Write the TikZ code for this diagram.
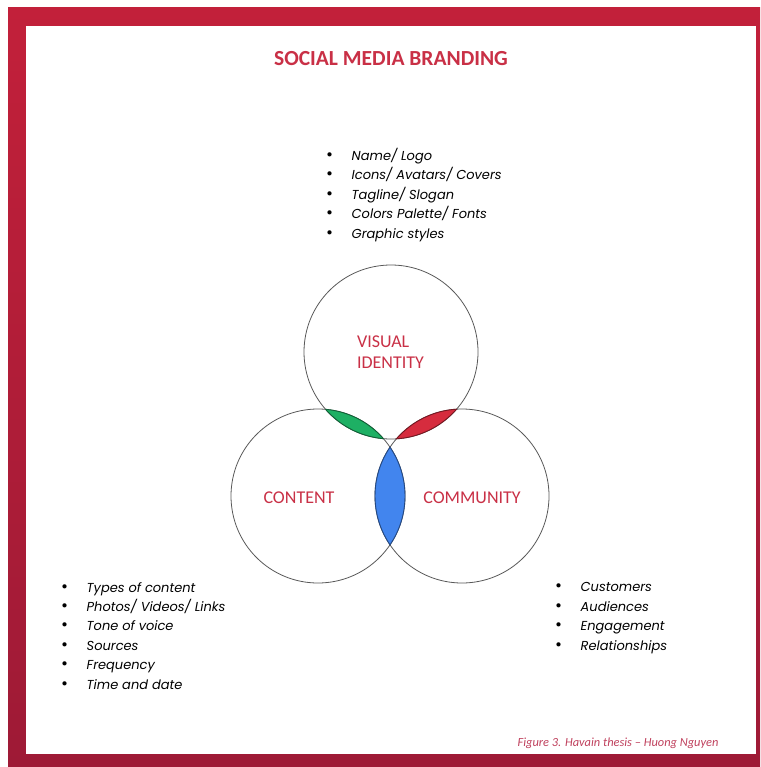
\documentclass[tikz,border=0pt]{standalone}
\usepackage{fontspec}
\setmainfont{Carlito}
\newfontfamily\listfont{Poppins}
\usetikzlibrary{positioning}
\definecolor{brandred}{RGB}{201,48,70}
\definecolor{framered}{RGB}{194,32,58}
\definecolor{framedark}{RGB}{158,26,54}
\definecolor{capred}{RGB}{192,66,94}
\definecolor{lensgreen}{RGB}{30,176,100}
\definecolor{lensred}{RGB}{214,44,62}
\definecolor{lensblue}{RGB}{66,133,238}
\tikzset{
    brandcircle/.style={circle, draw=black!65, line width=0.8pt,
        minimum size=174pt, inner sep=0pt},
    circlelabel/.style={text=brandred, align=left, inner sep=0pt,
        font=\fontsize{18}{21}\selectfont},
    itemlist/.style={anchor=base west, inner sep=0pt, align=left,
        font=\listfont\itshape\fontsize{13}{19.4}\selectfont},
    lensline/.style={line width=0.9pt}
}
\newcommand{\bul}{\makebox[25.5pt][l]{\upshape\fontsize{17}{17}\selectfont\textbullet}}
\newcommand{\crad}{87pt}

\begin{document}
\begin{tikzpicture}[x=1pt,y=-1pt]
\useasboundingbox (0,0) rectangle (760,767);
\fill[white] (0,0) rectangle (760,767);
% red frame
\shade[top color=framered, bottom color=framedark] (8,8) rectangle (760,766);
\fill[white] (26,26) rectangle (756,754);

\node[anchor=base, text=brandred, font=\bfseries\fontsize{21.5}{24}\selectfont]
    (title) at (391,65.5) {SOCIAL MEDIA BRANDING};

% the three circles
\node[brandcircle] (vis) at (391,352) {};
\node[brandcircle] (cont) at (318,496) {};
\node[brandcircle] (comm) at (462,496) {};

% overlaps
\foreach \a/\b/\c in {vis/cont/lensgreen, vis/comm/lensred, cont/comm/lensblue}{
    \begin{scope}
        \clip (\a.center) circle[radius=\crad];
        \filldraw[lensline, fill=\c, draw=\c!55!black] (\b.center) circle[radius=\crad];
    \end{scope}
    \begin{scope}
        \clip (\b.center) circle[radius=\crad];
        \draw[lensline, draw=\c!55!black] (\a.center) circle[radius=\crad];
    \end{scope}
}

\node[circlelabel] (vislabel) at (390.5,352) {VISUAL\\IDENTITY};
\node[circlelabel] (contlabel) at (299,498) {CONTENT};
\node[circlelabel] (commlabel) at (472,498) {COMMUNITY};

% bullet lists (base = last line)
\node[itemlist] (visitems) at (326,238) {\bul Name/ Logo\\ \bul Icons/ Avatars/ Covers\\
    \bul Tagline/ Slogan\\ \bul Colors Palette/ Fonts\\ \bul Graphic styles};
\node[itemlist] (contitems) at (61,689) {\bul Types of content\\ \bul Photos/ Videos/ Links\\
    \bul Tone of voice\\ \bul Sources\\ \bul Frequency\\ \bul Time and date};
\node[itemlist] (commitems) at (555,650) {\bul Customers\\ \bul Audiences\\
    \bul Engagement\\ \bul Relationships};

\node[anchor=base east, text=capred, font=\itshape\fontsize{12.4}{14}\selectfont]
    (caption) at (722,746.5) {Figure 3. Havain thesis – Huong Nguyen};
\end{tikzpicture}
\end{document}
